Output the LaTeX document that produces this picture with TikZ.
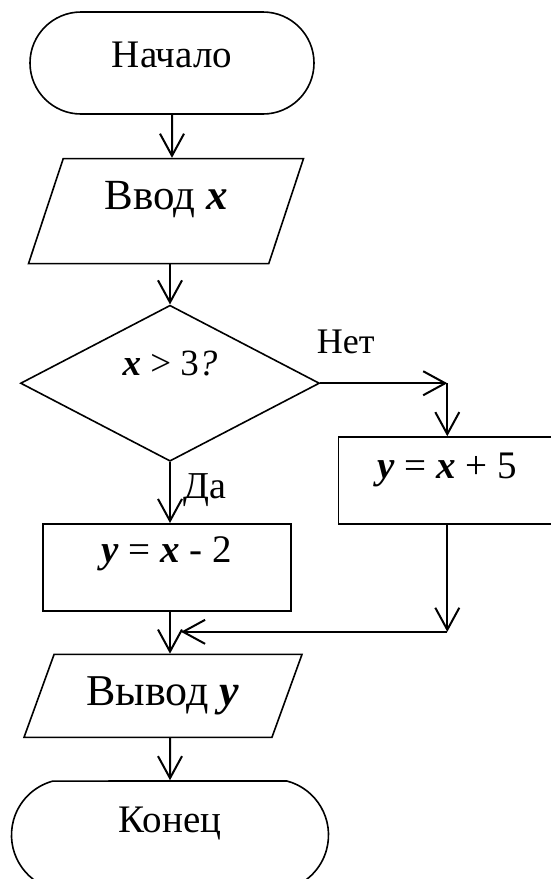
\documentclass[tikz,border=0pt]{standalone}
\usepackage{fontspec}
\setmainfont{Liberation Serif}
\usetikzlibrary{shapes.geometric,shapes.misc,arrows.meta,positioning,calc}

\newcommand{\bivar}[1]{\textbf{\textit{#1}}}

\begin{document}
\begin{tikzpicture}[
    node distance=21pt,
    every node/.style={font=\fontsize{19.5}{22}\selectfont},
    terminal/.style={rounded rectangle, draw, line width=0.8pt, inner sep=2pt},
    io/.style={trapezium, trapezium stretches body, draw, line width=0.8pt, inner sep=2pt},
    process/.style={rectangle, draw, line width=0.8pt, minimum height=43.5pt, inner sep=2pt},
    decision/.style={diamond, draw, line width=0.8pt, minimum width=149.5pt, minimum height=78pt, aspect=1.9, inner sep=1pt},
    arrow/.style={-{Straight Barb[length=11pt,width=12pt]}, line width=1pt},
    lift/.style={text depth=#1}
]
    \useasboundingbox (0,0) rectangle (275.5pt,-439.5pt);
    \clip (0,0) rectangle (275.5pt,-439.5pt);

    % Blocks
    \node[terminal, minimum width=146pt, minimum height=51pt, lift=8pt] (start) at (86pt,-31.5pt) {Начало};
    \node[io, below=21.5pt of start, xshift=-3pt, minimum width=137.5pt, minimum height=52.5pt,
          trapezium left angle=63, trapezium right angle=117, lift=16pt, font=\fontsize{21.5}{24}\selectfont] (input) {Ввод \bivar{x}};
    \node[decision, below=20pt of input, xshift=2pt, lift=20pt, font=\fontsize{18.5}{21}\selectfont] (cond) {\bivar{x} > 3\textit{?}};
    \node[process, below=30.5pt of cond, xshift=-1.5pt, minimum width=124pt, lift=18pt] (yes) {\bivar{y} = \bivar{x} - 2};
    \node[process, below=26.5pt of cond.east, xshift=63.5pt, minimum width=109pt, lift=15pt] (no) {\bivar{y} = \bivar{x} + 5};
    \node[io, below=21pt of yes, xshift=-2pt, minimum width=139pt, minimum height=41.5pt,
          trapezium left angle=57, trapezium right angle=123, font=\fontsize{22}{24}\selectfont] (output) {Вывод \bivar{y}};
    \node[terminal, below=21pt of output, xshift=3.5pt, minimum width=162.5pt, minimum height=54pt,
          rounded rectangle arc length=150, lift=15pt] (end) {Конец};

    % Arrows
    \draw[arrow] (start) -- (start |- input.north);
    \draw[arrow] (cond |- input.south) -- (cond);
    \draw[arrow] (cond) -- (cond |- yes.north) node[midway, right, xshift=3pt, yshift=1pt, font=\fontsize{19}{21}\selectfont] {Да};
    \coordinate (turn) at (cond.east -| no);
    \draw[arrow] (cond.east) -- (turn) node[pos=0.2, above=11pt, font=\fontsize{18}{20}\selectfont] {Нет};
    \draw[arrow] (turn) -- (no);
    \coordinate (corner) at ($(no.south)+(0,-53.5pt)$);
    \coordinate (join) at ($(corner -| cond)+(5.5pt,0)$);
    \draw[arrow] (no) -- (corner);
    \draw[arrow] (corner) -- (join);
    \draw[arrow] (yes.south -| cond) -- (cond |- output.north);
    \draw[arrow] (output.south -| end) -- (end);
\end{tikzpicture}
\end{document}
